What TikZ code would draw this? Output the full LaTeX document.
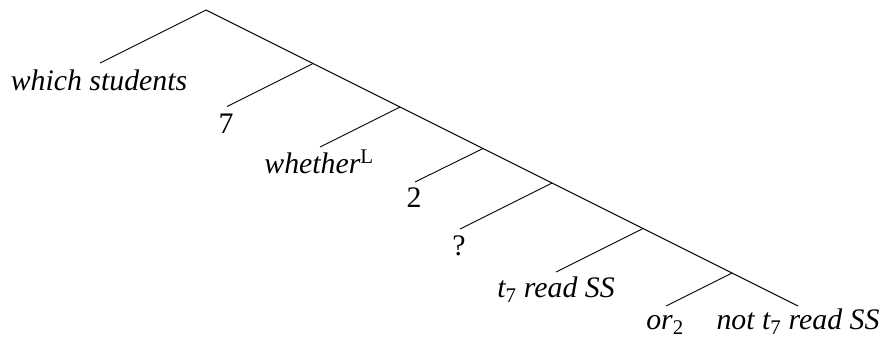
\documentclass[tikz,border=0pt]{standalone}
\usepackage{fontspec}
\setmainfont{Liberation Serif}
\newcommand{\sbup}[1]{\textsubscript{\upshape #1}}
\newcommand{\spup}[1]{\textsuperscript{\upshape #1}}
\begin{document}
\begin{tikzpicture}[x=1pt,y=-1pt,line width=0.9pt,
  lbl/.style={anchor=base,inner sep=0pt,font=\fontsize{29.8}{34}\selectfont}]
\useasboundingbox (0,0) rectangle (885,338);
% tree points
\coordinate (R) at (206,10);
\coordinate (n1) at (313,63.5);
\coordinate (n2) at (400,107);
\coordinate (n3) at (483,148.5);
\coordinate (n4) at (552,183);
\coordinate (n5) at (643,228.5);
\coordinate (n6) at (732,273);
\coordinate (e0) at (100,63);
\coordinate (e1) at (227,106.5);
\coordinate (e2) at (320,147);
\coordinate (e3) at (415,182);
\coordinate (e4) at (460,229);
\coordinate (e5) at (556,272);
\coordinate (e6) at (666,306);
\coordinate (e7) at (798,306);
% labels
\node[lbl] (l0) at (99,90) {\itshape which students};
\node[lbl] (l1) at (226,133) {7};
\node[lbl] (l2) at (319,173) {\itshape whether\spup{L}};
\node[lbl] (l3) at (414,207) {2};
\node[lbl] (l4) at (459,255) {?};
\node[lbl] (l5) at (556,297) {\itshape t\sbup{7} read SS};
\node[lbl] (l6) at (665,329) {\itshape or\sbup{2}};
\node[lbl] (l7) at (798,329) {\itshape not t\sbup{7} read SS};
% branches
\draw (e0) -- (R) -- (n1) -- (n2) -- (n3) -- (n4) -- (n5) -- (n6) -- (e7);
\draw (n1) -- (e1);
\draw (n2) -- (e2);
\draw (n3) -- (e3);
\draw (n4) -- (e4);
\draw (n5) -- (e5);
\draw (n6) -- (e6);
\end{tikzpicture}
\end{document}
